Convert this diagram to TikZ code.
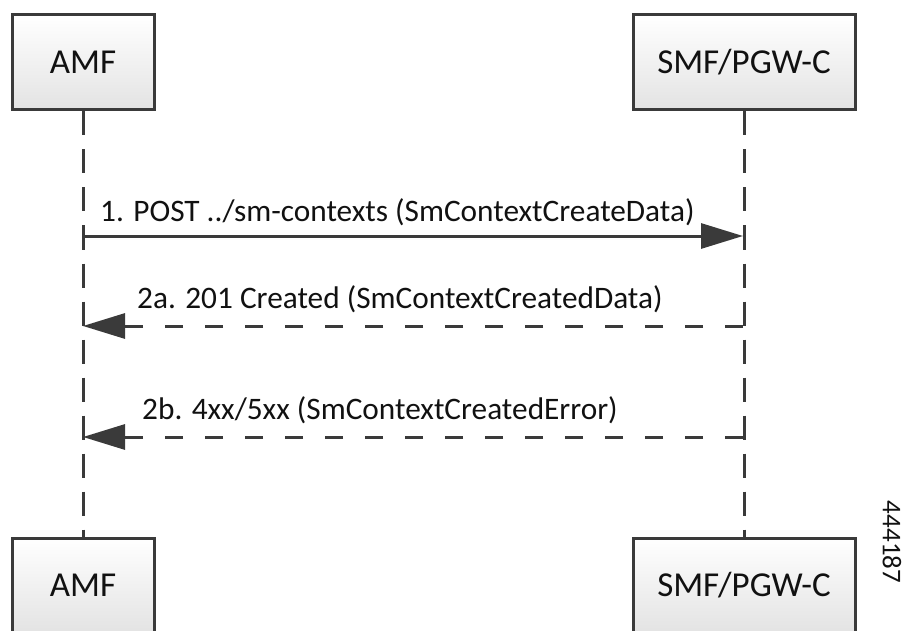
\documentclass[tikz,border=0pt]{standalone}
\usepackage{fontspec}
\setmainfont{Carlito}
\usetikzlibrary{arrows.meta}
\definecolor{ln}{HTML}{3A3A3A}
\definecolor{tx}{HTML}{111111}
\begin{document}
\begin{tikzpicture}[x=1pt,y=-1pt,
 actor/.style={draw=ln, line width=3pt, top color=white, bottom color=gray!22, minimum height=95pt, inner sep=0pt, font=\fontsize{35}{40}\selectfont, text=tx},
 life/.style={draw=ln, line width=3pt, dash pattern=on 24pt off 14pt},
 msg/.style={draw=ln, line width=3pt, -{Triangle[length=42pt,width=25pt]}},
 reply/.style={msg, dash pattern=on 18pt off 22pt},
 lbl/.style={anchor=base west, inner sep=0pt, font=\fontsize{31.3}{36}\selectfont, text=tx}]
\useasboundingbox (0,0) rectangle (902,631);
\node[actor, minimum width=142pt] (amf1) at (83,62.5) {AMF};
\node[actor, minimum width=222pt] (smf1) at (744,62.5) {SMF/PGW-C};
\node[actor, minimum width=142pt] (amf2) at (83,585.5) {AMF};
\node[actor, minimum width=222pt] (smf2) at (744,585.5) {SMF/PGW-C};
\draw[life] (amf1.south) -- (amf2.north);
\draw[life] (smf1.south) -- (smf2.north);
\coordinate (m1a) at (83,236);
\coordinate (m1b) at (743,236);
\coordinate (m2a) at (743,326);
\coordinate (m2b) at (83,326);
\coordinate (m3a) at (743,437);
\coordinate (m3b) at (83,437);
\draw[msg] (m1a) -- (m1b);
\draw[reply] (m2a) -- (m2b);
\draw[reply] (m3a) -- (m3b);
\node[lbl] (l1) at (100,222) {1. POST ../sm-contexts (SmContextCreateData)};
\node[lbl] (l2) at (137,308) {2a. 201 Created (SmContextCreatedData)};
\node[lbl] (l3) at (142,419) {2b. 4xx/5xx (SmContextCreatedError)};
\node[rotate=-90, inner sep=0pt, font=\fontsize{27}{30}\selectfont, text=tx] (fig) at (892,542) {444187};
\end{tikzpicture}
\end{document}
